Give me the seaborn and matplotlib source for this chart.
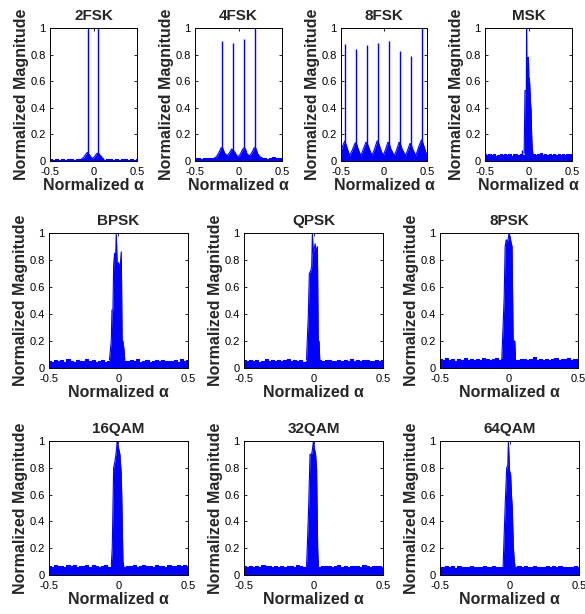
import numpy as np
import matplotlib
matplotlib.use("Agg")
import matplotlib.pyplot as plt
import seaborn as sns

sns.set_theme(style="ticks")
plt.rcParams['font.family'] = ['Liberation Sans', 'DejaVu Sans']

BLUE = "#0000ff"

titles = ["2FSK", "4FSK", "8FSK", "MSK",
          "BPSK", "QPSK", "8PSK",
          "16QAM", "32QAM", "64QAM"]

floor_2fsk = [0.012, 0.010, 0.013, 0.011, 0.012, 0.010, 0.013, 0.012, 0.011, 0.013,
              0.012, 0.010, 0.012, 0.013, 0.011, 0.012, 0.010, 0.013, 0.011, 0.012,
              0.013, 0.010, 0.012, 0.011, 0.013, 0.012, 0.010, 0.012, 0.011, 0.012]
floor_4fsk = [0.020, 0.022, 0.018, 0.021, 0.020, 0.019, 0.022, 0.020, 0.021, 0.018,
              0.020, 0.022, 0.020, 0.021, 0.019, 0.020, 0.022, 0.018, 0.021, 0.020,
              0.019, 0.022, 0.020, 0.021, 0.018, 0.020, 0.028, 0.020, 0.019, 0.021]
floor_8fsk = [0.03, 0.03, 0.03, 0.03, 0.03, 0.03, 0.03, 0.03, 0.03, 0.03,
              0.03, 0.03, 0.03, 0.03, 0.03, 0.03, 0.03, 0.03, 0.03, 0.03]
floor_msk = [0.050, 0.042, 0.055, 0.045, 0.052, 0.040, 0.048, 0.056, 0.044, 0.050,
             0.046, 0.053, 0.041, 0.049, 0.055, 0.045, 0.052, 0.047, 0.043, 0.054,
             0.048, 0.044, 0.053, 0.046, 0.050, 0.058, 0.045, 0.049, 0.042, 0.052,
             0.047, 0.055, 0.044, 0.050, 0.046, 0.053, 0.043, 0.049, 0.051, 0.045]
floor_bpsk = [0.055, 0.048, 0.062, 0.050, 0.058, 0.045, 0.065, 0.052, 0.047, 0.060,
              0.054, 0.049, 0.063, 0.051, 0.057, 0.046, 0.055, 0.061, 0.048, 0.053,
              0.059, 0.047, 0.052, 0.056, 0.050, 0.049, 0.058, 0.052, 0.066, 0.048,
              0.055, 0.060, 0.047, 0.053, 0.057, 0.050, 0.062, 0.049, 0.055, 0.051,
              0.058, 0.047, 0.063, 0.052, 0.056]
floor_qpsk = [0.058, 0.050, 0.062, 0.052, 0.060, 0.048, 0.055, 0.063, 0.051, 0.057,
              0.049, 0.061, 0.053, 0.056, 0.066, 0.050, 0.058, 0.052, 0.060, 0.048,
              0.055, 0.058, 0.051, 0.053, 0.059, 0.050, 0.056, 0.062, 0.049, 0.054,
              0.060, 0.052, 0.057, 0.050, 0.063, 0.053, 0.058, 0.049, 0.056, 0.061,
              0.051, 0.055, 0.059, 0.050, 0.057]
floor_8psk = [0.065, 0.058, 0.072, 0.060, 0.068, 0.055, 0.070, 0.062, 0.074, 0.058,
              0.066, 0.061, 0.069, 0.056, 0.072, 0.063, 0.059, 0.067, 0.071, 0.057,
              0.064, 0.068, 0.060, 0.073, 0.062, 0.057, 0.069, 0.064, 0.060, 0.066,
              0.078, 0.059, 0.067, 0.062, 0.070, 0.058, 0.065, 0.071, 0.060, 0.068,
              0.063, 0.072, 0.059, 0.066, 0.070]
floor_16qam = [0.068, 0.062, 0.075, 0.064, 0.070, 0.060, 0.072, 0.066, 0.074, 0.061,
               0.069, 0.065, 0.073, 0.060, 0.071, 0.067, 0.063, 0.070, 0.074, 0.062,
               0.066, 0.072, 0.064, 0.069, 0.061, 0.070, 0.066, 0.073, 0.062, 0.068,
               0.071, 0.064, 0.069, 0.063, 0.074, 0.066, 0.070, 0.061, 0.072, 0.067,
               0.064, 0.073, 0.068, 0.071, 0.066]
floor_32qam = [0.065, 0.060, 0.070, 0.062, 0.068, 0.058, 0.071, 0.064, 0.066, 0.060,
               0.069, 0.063, 0.067, 0.059, 0.070, 0.065, 0.061, 0.072, 0.064, 0.060,
               0.066, 0.071, 0.062, 0.068, 0.060, 0.069, 0.064, 0.070, 0.061, 0.067,
               0.072, 0.063, 0.066, 0.060, 0.070, 0.065, 0.068, 0.062, 0.074, 0.064,
               0.061, 0.069, 0.066, 0.070, 0.063]
floor_64qam = [0.062, 0.056, 0.066, 0.058, 0.064, 0.055, 0.067, 0.060, 0.063, 0.057,
               0.065, 0.059, 0.062, 0.056, 0.068, 0.061, 0.058, 0.064, 0.060, 0.056,
               0.063, 0.066, 0.058, 0.062, 0.057, 0.065, 0.060, 0.064, 0.056, 0.062,
               0.067, 0.059, 0.063, 0.057, 0.065, 0.060, 0.064, 0.058, 0.066, 0.061,
               0.057, 0.063, 0.060, 0.065, 0.059]

# humps / main lobe envelopes
lobe_x_2fsk = [-0.14, -0.11, -0.09, -0.07, -0.05, -0.03, -0.015, 0.0, 0.02, 0.035, 0.055, 0.075, 0.095, 0.12]
lobe_y_2fsk = [0.012, 0.03, 0.05, 0.065, 0.05, 0.03, 0.02, 0.025, 0.04, 0.055, 0.06, 0.045, 0.03, 0.012]
lobe_x_4fsk = [-0.28, -0.25, -0.22, -0.2, -0.18, -0.16, -0.13, -0.1, -0.08, -0.065, -0.04, -0.02, 0.0,
               0.02, 0.045, 0.065, 0.08, 0.1, 0.13, 0.16, 0.18, 0.2, 0.22, 0.25, 0.28]
lobe_y_4fsk = [0.02, 0.035, 0.07, 0.1, 0.095, 0.06, 0.04, 0.065, 0.09, 0.085, 0.065, 0.04, 0.035,
               0.05, 0.085, 0.1, 0.09, 0.05, 0.04, 0.07, 0.1, 0.095, 0.055, 0.03, 0.02]
lobe_x_8fsk = [-0.5, -0.47, -0.455, -0.43, -0.4, -0.37, -0.34, -0.325, -0.3, -0.27, -0.24, -0.21,
               -0.2, -0.17, -0.14, -0.11, -0.08, -0.07, -0.04, -0.01, 0.02, 0.045, 0.055, 0.08,
               0.12, 0.15, 0.175, 0.185, 0.21, 0.25, 0.28, 0.3, 0.31, 0.34, 0.37, 0.4, 0.43,
               0.44, 0.47, 0.5]
lobe_y_8fsk = [0.08, 0.13, 0.15, 0.1, 0.04, 0.08, 0.13, 0.14, 0.09, 0.04, 0.09, 0.14,
               0.14, 0.09, 0.04, 0.09, 0.15, 0.15, 0.09, 0.04, 0.09, 0.14, 0.14, 0.09,
               0.04, 0.09, 0.14, 0.14, 0.09, 0.04, 0.09, 0.13, 0.13, 0.08, 0.04, 0.1, 0.15,
               0.16, 0.1, 0.04]
lobe_x_msk = [-0.05, -0.045, -0.04, -0.03, -0.025, -0.022, -0.018, -0.01, -0.004, 0.0,
              0.004, 0.01, 0.016, 0.022, 0.03, 0.036, 0.042, 0.05]
lobe_y_msk = [0.06, 0.3, 0.53, 0.53, 0.53, 1.0, 0.53, 0.6, 0.78, 0.75,
              0.62, 0.62, 0.55, 0.45, 0.38, 0.2, 0.1, 0.06]
lobe_x_bpsk = [-0.065, -0.052, -0.047, -0.04, -0.035, -0.028, -0.022, -0.016, -0.01, -0.004,
               0.0, 0.006, 0.012, 0.02, 0.026, 0.032, 0.038, 0.045]
lobe_y_bpsk = [0.06, 0.2, 0.43, 0.43, 0.76, 0.85, 0.76, 1.0, 0.78, 0.76,
               0.78, 0.76, 0.75, 0.86, 0.2, 0.2, 0.15, 0.06]
lobe_x_qpsk = [-0.05, -0.045, -0.037, -0.03, -0.02, -0.013, -0.008, -0.002, 0.005, 0.012,
               0.02, 0.028, 0.034, 0.04, 0.045]
lobe_y_qpsk = [0.06, 0.2, 0.4, 0.7, 0.72, 0.75, 1.0, 0.85, 0.88, 0.92,
               0.85, 0.9, 0.2, 0.2, 0.06]
lobe_x_8psk = [-0.052, -0.047, -0.035, -0.028, -0.02, -0.012, -0.005, 0.0, 0.008, 0.015,
               0.022, 0.03, 0.036, 0.042, 0.047]
lobe_y_8psk = [0.07, 0.2, 0.52, 0.9, 0.95, 0.93, 0.96, 1.0, 0.97, 0.93,
               0.9, 0.2, 0.2, 0.2, 0.07]
lobe_x_16qam = [-0.052, -0.045, -0.035, -0.025, -0.015, -0.01, 0.0, 0.01, 0.02, 0.025,
                0.032, 0.038]
lobe_y_16qam = [0.07, 0.2, 0.8, 0.85, 0.93, 1.0, 0.95, 0.9, 0.75, 0.5,
                0.1, 0.07]
lobe_x_32qam = [-0.05, -0.045, -0.035, -0.025, -0.015, -0.01, 0.0, 0.005, 0.015, 0.022,
                0.03, 0.035]
lobe_y_32qam = [0.07, 0.2, 0.5, 0.9, 0.9, 0.92, 1.0, 0.95, 0.9, 0.8,
                0.2, 0.07]
lobe_x_64qam = [-0.046, -0.04, -0.03, -0.02, -0.012, -0.008, 0.0, 0.008, 0.015, 0.02,
                0.028, 0.035, 0.04]
lobe_y_64qam = [0.06, 0.25, 0.55, 0.8, 0.82, 1.0, 0.78, 0.75, 0.58, 0.5,
                0.2, 0.1, 0.06]

# isolated thin spectral lines
spike_x_2fsk = [-0.065, 0.055]
spike_y_2fsk = [1.0, 1.0]
spike_x_4fsk = [-0.19, -0.065, 0.065, 0.19]
spike_y_4fsk = [0.9, 0.89, 0.92, 1.0]
spike_x_8fsk = [-0.455, -0.325, -0.2, -0.07, 0.055, 0.185, 0.31, 0.44]
spike_y_8fsk = [0.88, 0.84, 0.87, 0.89, 0.9, 0.83, 0.79, 1.0]
spike_x_msk = [-0.07]
spike_y_msk = [0.08]

panels = [
    (floor_2fsk, lobe_x_2fsk, lobe_y_2fsk, spike_x_2fsk, spike_y_2fsk),
    (floor_4fsk, lobe_x_4fsk, lobe_y_4fsk, spike_x_4fsk, spike_y_4fsk),
    (floor_8fsk, lobe_x_8fsk, lobe_y_8fsk, spike_x_8fsk, spike_y_8fsk),
    (floor_msk, lobe_x_msk, lobe_y_msk, spike_x_msk, spike_y_msk),
    (floor_bpsk, lobe_x_bpsk, lobe_y_bpsk, [], []),
    (floor_qpsk, lobe_x_qpsk, lobe_y_qpsk, [], []),
    (floor_8psk, lobe_x_8psk, lobe_y_8psk, [], []),
    (floor_16qam, lobe_x_16qam, lobe_y_16qam, [], []),
    (floor_32qam, lobe_x_32qam, lobe_y_32qam, [], []),
    (floor_64qam, lobe_x_64qam, lobe_y_64qam, [], []),
]

# axes boxes in pixels: left, top, right, bottom
W, H = 585, 614
boxes = [(50, 28, 137, 161), (195, 28, 282, 161), (341, 28, 427, 161), (485, 28, 572, 161),
         (49, 233, 188, 368), (244, 233, 383, 368), (440, 233, 578, 368),
         (49, 441, 188, 575), (244, 441, 383, 575), (440, 441, 579, 575)]

fig = plt.figure(figsize=(W / 100, H / 100), dpi=100)

for i, (title, (floor, lx, ly, sx, sy)) in enumerate(zip(titles, panels)):
    l, t, r, b = boxes[i]
    ax = fig.add_axes([l / W, 1 - b / H, (r - l) / W, (b - t) / H])
    fx = np.linspace(-0.5, 0.5, len(floor))
    ax.fill_between(fx, 0, floor, step="mid", color=BLUE, lw=0)
    sns.lineplot(x=fx, y=floor, ax=ax, color=BLUE, lw=0.8, drawstyle="steps-mid", estimator=None)
    ax.fill_between(lx, 0, ly, color=BLUE, lw=0)
    sns.lineplot(x=lx, y=ly, ax=ax, color=BLUE, lw=0.8, estimator=None, sort=False)
    if sx:
        ax.vlines(sx, 0, sy, color=BLUE, lw=1.0)
    ax.set_xlim(-0.5, 0.5)
    ax.set_ylim(0, 1)
    ax.set_xticks([-0.5, 0, 0.5])
    ax.set_xticklabels(["-0.5", "0", "0.5"])
    ax.set_yticks([0, 0.2, 0.4, 0.6, 0.8, 1])
    ax.set_yticklabels(["0", "0.2", "0.4", "0.6", "0.8", "1"])
    ax.tick_params(direction="in", length=2.5, width=0.6, labelsize=8, pad=3,
                   top=True, right=True, colors="black")
    ax.tick_params(axis="x", pad=4)
    for s in ax.spines.values():
        s.set_linewidth(0.7)
        s.set_color("black")
    ax.set_title(title, fontsize=11, fontweight="bold", pad=6)
    ax.set_xlabel("Normalized α", fontsize=11.5, fontweight="bold", labelpad=1)
    ax.set_ylabel("Normalized Magnitude", fontsize=11.5, fontweight="bold", labelpad=1)

fig.savefig("out.png", dpi=100, facecolor="white")
